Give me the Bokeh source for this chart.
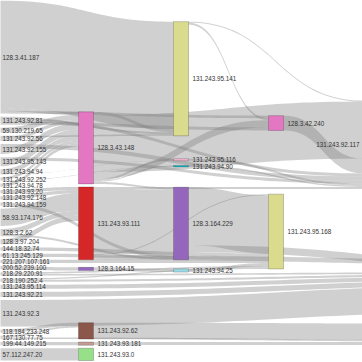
import numpy as np
from bokeh.plotting import figure
from bokeh.models import Range1d
from bokeh.embed import file_html
from bokeh.resources import INLINE
from bokeh.core.properties import value

# ---------------- data ----------------
STAGE_0 = ["128.3.41.187", "131.243.92.81", "59.130.219.65", "131.243.92.56", "131.243.92.155",
           "131.243.95.143", "131.243.94.94", "131.243.92.252", "131.243.94.78", "131.243.93.20",
           "131.243.92.148", "131.243.94.159", "58.93.174.176", "128.3.2.62", "128.3.97.204",
           "144.18.32.74", "61.13.245.129", "221.207.107.161", "200.52.239.100", "218.29.220.91",
           "218.190.252.4", "131.243.95.114", "131.243.92.21", "131.243.92.3", "118.184.233.248",
           "167.130.77.75", "199.44.149.215", "57.112.247.20"]
STAGE_1 = ["128.3.43.148", "131.243.93.111", "128.3.164.15", "131.243.92.62", "131.243.93.181",
           "131.243.93.0"]
STAGE_2 = ["131.243.95.141", "131.243.95.116", "131.243.94.90", "128.3.164.229", "131.243.94.25"]
STAGE_3 = ["128.3.42.240", "131.243.95.168"]
STAGE_4 = ["131.243.92.117"]
STAGE_6 = ["131.243.94.112", "131.243.95.31"]

NODE_NAMES = STAGE_0 + STAGE_1 + STAGE_2 + STAGE_3 + STAGE_4 + STAGE_6
NODE_STAGES = ([0] * len(STAGE_0) + [1] * len(STAGE_1) + [2] * len(STAGE_2)
               + [3] * len(STAGE_3) + [4] * len(STAGE_4) + [6] * len(STAGE_6))

FLOW_SOURCE = [
    "128.3.41.187", "128.3.41.187", "128.3.41.187",
    "131.243.92.81", "131.243.92.81", "131.243.92.81",
    "59.130.219.65",
    "131.243.92.56", "131.243.92.56",
    "131.243.92.155", "131.243.92.155",
    "131.243.95.143", "131.243.95.143",
    "131.243.94.94", "131.243.94.94",
    "131.243.92.252", "131.243.92.252",
    "131.243.94.78", "131.243.93.20", "131.243.92.148", "131.243.94.159",
    "58.93.174.176", "128.3.2.62", "128.3.2.62", "128.3.97.204",
    "144.18.32.74", "61.13.245.129",
    "221.207.107.161", "200.52.239.100",
    "218.29.220.91", "218.29.220.91",
    "218.190.252.4", "218.190.252.4",
    "131.243.95.114", "131.243.92.21", "131.243.92.3",
    "118.184.233.248", "167.130.77.75", "167.130.77.75",
    "199.44.149.215", "57.112.247.20",
    "128.3.43.148", "128.3.43.148", "128.3.43.148", "128.3.43.148", "128.3.43.148", "128.3.43.148",
    "131.243.93.111", "131.243.93.111", "131.243.93.111", "131.243.93.111",
    "128.3.164.15", "131.243.92.62", "131.243.93.181",
    "131.243.95.141", "131.243.95.141",
    "131.243.95.116", "131.243.94.90",
    "128.3.164.229", "128.3.164.229",
    "131.243.94.25", "128.3.42.240",
]
FLOW_TARGET = [
    "131.243.95.141", "128.3.43.148", "128.3.42.240",
    "131.243.95.141", "128.3.42.240", "131.243.92.117",
    "128.3.43.148",
    "131.243.95.141", "128.3.43.148",
    "128.3.43.148", "131.243.92.117",
    "128.3.43.148", "131.243.92.117",
    "128.3.43.148", "131.243.95.116",
    "128.3.43.148", "131.243.94.90",
    "128.3.43.148", "131.243.93.111", "131.243.93.111", "128.3.164.229",
    "131.243.93.111", "131.243.93.111", "128.3.164.229", "131.243.93.111",
    "131.243.95.168", "131.243.95.168",
    "131.243.95.168", "128.3.164.15",
    "131.243.95.168", "131.243.94.112",
    "131.243.95.168", "131.243.94.112",
    "131.243.94.112", "131.243.94.112", "131.243.94.112",
    "131.243.92.62", "131.243.92.62", "131.243.95.31",
    "131.243.93.181", "131.243.93.0",
    "131.243.95.141", "128.3.42.240", "131.243.92.117", "131.243.95.116", "131.243.94.90", "128.3.164.229",
    "131.243.92.117", "128.3.164.229", "131.243.95.168", "131.243.94.112",
    "131.243.94.25", "131.243.95.31", "131.243.95.31",
    "128.3.42.240", "131.243.92.117",
    "131.243.92.117", "131.243.92.117",
    "131.243.95.168", "131.243.94.112",
    "131.243.95.168", "131.243.92.117",
]
FLOW_VALUE = [
    1055, 30, 25,
    20, 30, 30,
    50,
    15, 35,
    60, 40,
    60, 30,
    48, 2,
    28, 4,
    32, 32, 32, 32,
    170, 50, 20, 50,
    32, 32,
    32, 32,
    16, 16,
    12, 20,
    40, 50, 260,
    32, 16, 16,
    32, 120,
    30, 70, 560, 18, 9, 20,
    20, 640, 10, 46,
    32, 160, 30,
    20, 10,
    20, 13,
    570, 70,
    30, 145,
]

# ---------------- styles ----------------
NODE_COLORS = {
    "128.3.43.148": "#e377c2", "131.243.93.111": "#d62728", "128.3.164.15": "#9467bd",
    "131.243.92.62": "#8c564b", "131.243.93.181": "#c49c94", "131.243.93.0": "#98df8a",
    "131.243.95.141": "#dbdb8d", "131.243.95.116": "#f7b6d2", "131.243.94.90": "#17becf",
    "128.3.164.229": "#9467bd", "131.243.94.25": "#9edae5", "128.3.42.240": "#e377c2",
    "131.243.95.168": "#dbdb8d", "131.243.92.117": "#7f7f7f",
}
DEFAULT_NODE_COLOR = "#1f77b4"
EDGE_COLOR = "#808080"
EDGE_ALPHA = 0.37
TEXT_COLOR = "#333333"
NODE_WIDTH = 15.0
COL_STEP = 95.0
PAD = 3.0
Y_TOP, Y_BOTTOM = 0.0, 360.0
ITERATIONS = 32
LABEL_OFFSET = 4.0
X_VIEW = (17.0, 379.0)
Y_VIEW = (362.0, 0.0)

# ---------------- sankey layout (HoloViews-style relaxation) ----------------
nodes = {}
for name, st in zip(NODE_NAMES, NODE_STAGES):
    nodes[name] = {"name": name, "stage": st, "src": [], "tgt": []}
links = []
for s, t, v in zip(FLOW_SOURCE, FLOW_TARGET, FLOW_VALUE):
    l = {"s": nodes[s], "t": nodes[t], "v": float(v)}
    links.append(l)
    nodes[s]["src"].append(l)
    nodes[t]["tgt"].append(l)
for n in nodes.values():
    n["value"] = max(sum(l["v"] for l in n["src"]), sum(l["v"] for l in n["tgt"]))
    n["x0"] = n["stage"] * COL_STEP
    n["x1"] = n["x0"] + NODE_WIDTH

n_stage = max(NODE_STAGES) + 1
columns = [[nodes[nm] for nm in NODE_NAMES if nodes[nm]["stage"] == k] for k in range(n_stage)]
columns = [c for c in columns if c]
ky = min((Y_BOTTOM - Y_TOP - (len(c) - 1) * PAD) / sum(n["value"] for n in c) for c in columns)
for c in columns:
    y = Y_TOP
    for n in c:
        n["y0"] = y
        n["y1"] = y + n["value"] * ky
        y = n["y1"] + PAD
for l in links:
    l["w"] = l["v"] * ky


def center(n):
    return (n["y0"] + n["y1"]) / 2


def shift(n, d):
    n["y0"] += d
    n["y1"] += d


def resolve():
    for c in columns:
        y = Y_TOP
        for n in c:
            d = y - n["y0"]
            if d > 0:
                shift(n, d)
            y = n["y1"] + PAD
        d = y - PAD - Y_BOTTOM
        if d > 0:
            shift(c[-1], -d)
            y = c[-1]["y0"]
            for n in reversed(c[:-1]):
                d = n["y1"] + PAD - y
                if d > 0:
                    shift(n, -d)
                y = n["y0"]


def relax_lr(a):
    for c in columns:
        for n in c:
            if n["tgt"]:
                yc = sum(center(l["s"]) * l["v"] for l in n["tgt"]) / sum(l["v"] for l in n["tgt"])
                shift(n, (yc - center(n)) * a)


def relax_rl(a):
    for c in reversed(columns):
        for n in c:
            if n["src"]:
                yc = sum(center(l["t"]) * l["v"] for l in n["src"]) / sum(l["v"] for l in n["src"])
                shift(n, (yc - center(n)) * a)


resolve()
alpha = 1.0
for _ in range(ITERATIONS):
    alpha *= 0.99
    relax_rl(alpha)
    resolve()
    relax_lr(alpha)
    resolve()

for n in nodes.values():
    n["src"].sort(key=lambda l: l["t"]["y0"])
    n["tgt"].sort(key=lambda l: l["s"]["y0"])
    y = n["y0"]
    for l in n["src"]:
        l["sy"] = y
        y += l["w"]
    y = n["y0"]
    for l in n["tgt"]:
        l["ty"] = y
        y += l["w"]

ts = np.linspace(0, 1, 48)


def bez(p0, p1, p2, p3):
    return (1 - ts) ** 3 * p0 + 3 * (1 - ts) ** 2 * ts * p1 + 3 * (1 - ts) * ts ** 2 * p2 + ts ** 3 * p3


edge_xs, edge_ys = [], []
for l in links:
    xa, xb = l["s"]["x1"], l["t"]["x0"]
    xm = (xa + xb) / 2
    bx = bez(xa, xm, xm, xb)
    top = bez(l["sy"], l["sy"], l["ty"], l["ty"])
    bot = top + l["w"]
    edge_xs.append(list(bx) + list(bx[::-1]))
    edge_ys.append(list(top) + list(bot[::-1]))

# ---------------- plot ----------------
p = figure(width=362, height=362, x_range=Range1d(*X_VIEW), y_range=Range1d(*Y_VIEW),
           toolbar_location=None, output_backend="svg", min_border=0,
           x_axis_location=None, y_axis_location=None)
p.grid.visible = False
p.outline_line_color = None
p.background_fill_color = "white"

p.patches(edge_xs, edge_ys, fill_color=EDGE_COLOR, fill_alpha=EDGE_ALPHA, line_color=None)

node_list = [nodes[nm] for nm in NODE_NAMES]
p.quad(left=[n["x0"] for n in node_list], right=[n["x1"] for n in node_list],
       top=[n["y0"] for n in node_list], bottom=[n["y1"] for n in node_list],
       fill_color=[NODE_COLORS.get(n["name"], DEFAULT_NODE_COLOR) for n in node_list],
       line_color="black", line_alpha=0.3, line_width=0.7)

total_w = (n_stage - 1) * COL_STEP + NODE_WIDTH
lx, ly, lt, rx, ry, rt = [], [], [], [], [], []
for n in node_list:
    if n["x0"] < total_w / 2:
        x = n["x1"] + LABEL_OFFSET
        if X_VIEW[0] <= x <= X_VIEW[1]:
            lx.append(x); ly.append(center(n)); lt.append(n["name"])
    else:
        x = n["x0"] - LABEL_OFFSET
        if X_VIEW[0] <= x <= X_VIEW[1]:
            rx.append(x); ry.append(center(n)); rt.append(n["name"])

p.text(x=lx, y=ly, text=lt, text_align="left", text_baseline="middle",
       text_font=value("Liberation Sans"), text_font_size="6.3px", text_color=TEXT_COLOR)
p.text(x=rx, y=ry, text=rt, text_align="right", text_baseline="middle",
       text_font=value("Liberation Sans"), text_font_size="6.3px", text_color=TEXT_COLOR)

open("out.html", "w").write(file_html(p, INLINE))
